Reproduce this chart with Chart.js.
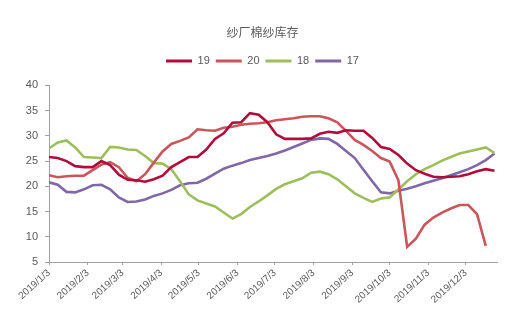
<!DOCTYPE html>
<html>
<head>
<meta charset="utf-8">
<script src="https://cdn.jsdelivr.net/npm/chart.js@4/dist/chart.umd.min.js"></script>
<style>
  html, body { margin: 0; padding: 0; background: #fff; }
  #wrap { width: 521px; height: 326px; }
</style>
</head>
<body>
<div id="wrap"><canvas id="stock-chart" width="521" height="326"></canvas></div>
<script>
// Weekly yarn-mill inventory, one value per week starting 2019/1/3
const startDate = '2019-01-03';
const seriesNames = ['19', '20', '18', '17'];

const s19 = [25.8, 25.6, 25.0, 24.0, 23.8, 23.8, 25.0, 24.2, 22.3, 21.3, 21.2, 20.9, 21.4,
  22.1, 23.8, 24.8, 25.8, 25.8, 27.3, 29.4, 30.5, 32.6, 32.7, 34.5, 34.2, 32.7, 30.3,
  29.4, 29.4, 29.4, 29.5, 30.4, 30.8, 30.6, 31.1, 31.0, 31.0, 29.6, 27.8, 27.4, 26.2,
  24.5, 23.2, 22.5, 21.9, 21.8, 21.9, 22.0, 22.4, 23.0, 23.4, 23.1];

const s20 = [22.2, 21.8, 22.0, 22.1, 22.1, 23.2, 24.3, 24.8, 23.8, 21.7, 21.0, 22.4, 24.7,
  26.9, 28.4, 29.0, 29.7, 31.3, 31.1, 31.0, 31.6, 31.8, 32.2, 32.4, 32.5, 32.7, 33.1,
  33.3, 33.5, 33.8, 33.9, 33.9, 33.5, 32.7, 31.0, 29.2, 28.2, 27.0, 25.6, 24.9, 21.2,
  8.0, 9.6, 12.4, 13.8, 14.8, 15.6, 16.3, 16.3, 14.5, 8.2];

const s18 = [27.5, 28.7, 29.1, 27.7, 25.8, 25.7, 25.6, 27.8, 27.7, 27.3, 27.2, 26.0, 24.6,
  24.5, 23.4, 21.0, 18.4, 17.2, 16.6, 16.0, 14.8, 13.6, 14.5, 15.9, 17.0, 18.2, 19.5,
  20.4, 21.0, 21.6, 22.7, 22.9, 22.4, 21.4, 20.0, 18.6, 17.7, 16.9, 17.6, 17.8, 19.4,
  21.0, 22.4, 23.4, 24.2, 25.1, 25.8, 26.5, 26.9, 27.3, 27.7, 26.6];

const s17 = [20.8, 20.3, 18.9, 18.8, 19.4, 20.2, 20.3, 19.4, 17.8, 16.9, 17.0, 17.4, 18.1,
  18.6, 19.3, 20.2, 20.6, 20.7, 21.5, 22.5, 23.5, 24.1, 24.6, 25.2, 25.6, 26.0, 26.5,
  27.1, 27.8, 28.5, 29.2, 29.5, 29.4, 28.4, 27.0, 25.6, 23.3, 21.0, 18.8, 18.6, 19.1,
  19.5, 20.0, 20.6, 21.1, 21.6, 22.2, 22.8, 23.4, 24.2, 25.2, 26.5];

const tickLabels = ['2019/1/3', '2019/2/3', '2019/3/3', '2019/4/3', '2019/5/3', '2019/6/3',
  '2019/7/3', '2019/8/3', '2019/9/3', '2019/10/3', '2019/11/3', '2019/12/3'];

const COLORS = ['#B00D3C', '#C8565A', '#9EBE5E', '#8067A8'];
const TEXT = '#595959';
const AXIS = '#A0A0A0';
const DAY = 86400000;

const t0 = new Date(startDate + 'T00:00:00Z').getTime();
function dayOf(label) {
  const [y, m, d] = label.split('/').map(Number);
  return Math.round((Date.UTC(y, m - 1, d) - t0) / DAY);
}
const tickDays = tickLabels.map(dayOf);

// points sit on a day axis, one week apart
function toPoints(values) {
  return values.map((v, i) => ({ x: i * 7, y: v }));
}

const datasets = [s19, s20, s18, s17].map((vals, i) => ({
  label: seriesNames[i],
  data: toPoints(vals),
  borderColor: COLORS[i],
  backgroundColor: COLORS[i],
  borderWidth: 2.6,
  pointRadius: 0,
  tension: 0
}));

// extra room between legend and plot
const legendGap = {
  id: 'legendGap',
  beforeInit(chart) {
    const fit = chart.legend.fit;
    chart.legend.fit = function () {
      fit.call(this);
      this.height += 9;
    };
  }
};

const fontFamily = '"Liberation Sans", Arial, "Noto Sans CJK SC", sans-serif';

new Chart(document.getElementById('stock-chart'), {
  type: 'line',
  data: { datasets },
  plugins: [legendGap],
  options: {
    responsive: false,
    animation: false,
    layout: { padding: { left: 14, right: 10, top: 0, bottom: 0 } },
    plugins: {
      title: {
        display: true,
        text: '纱厂棉纱库存',
        color: TEXT,
        font: { family: '"Noto Sans CJK SC", sans-serif', size: 12, weight: 'normal' },
        padding: { top: 25, bottom: 10 }
      },
      legend: {
        position: 'top',
        labels: {
          color: TEXT,
          font: { family: fontFamily, size: 11 },
          boxWidth: 26,
          boxHeight: 3,
          padding: 6,
          generateLabels(chart) {
            return Chart.defaults.plugins.legend.labels.generateLabels(chart)
              .map(l => ({ ...l, lineWidth: 0 }));
          }
        }
      },
      tooltip: { enabled: false }
    },
    scales: {
      x: {
        type: 'linear',
        min: 0,
        max: 359,
        afterBuildTicks(scale) {
          scale.ticks = tickDays.map(v => ({ value: v }));
        },
        afterFit(scale) { scale.height = 64; },
        grid: { display: true, drawOnChartArea: false, drawTicks: true, tickLength: 3, color: AXIS },
        border: { display: true, color: AXIS, width: 1 },
        ticks: {
          autoSkip: false,
          minRotation: 42,
          maxRotation: 42,
          padding: 2,
          color: TEXT,
          font: { family: fontFamily, size: 10 },
          callback(value) {
            const idx = tickDays.indexOf(value);
            return idx >= 0 ? tickLabels[idx] : '';
          }
        }
      },
      y: {
        min: 5,
        max: 40,
        afterFit(scale) { scale.width = 35; },
        grid: { display: true, drawOnChartArea: false, drawTicks: true, tickLength: 4, color: AXIS },
        border: { display: true, color: AXIS, width: 1 },
        ticks: {
          stepSize: 5,
          padding: 7,
          color: TEXT,
          font: { family: fontFamily, size: 11 }
        }
      },
      // empty right-hand strip so the plot stops short of the canvas edge
      spacer: {
        type: 'linear',
        position: 'right',
        afterFit(scale) { scale.width = 14; },
        grid: { display: false },
        border: { display: false },
        ticks: { display: false }
      }
    }
  }
});
</script>
</body>
</html>
